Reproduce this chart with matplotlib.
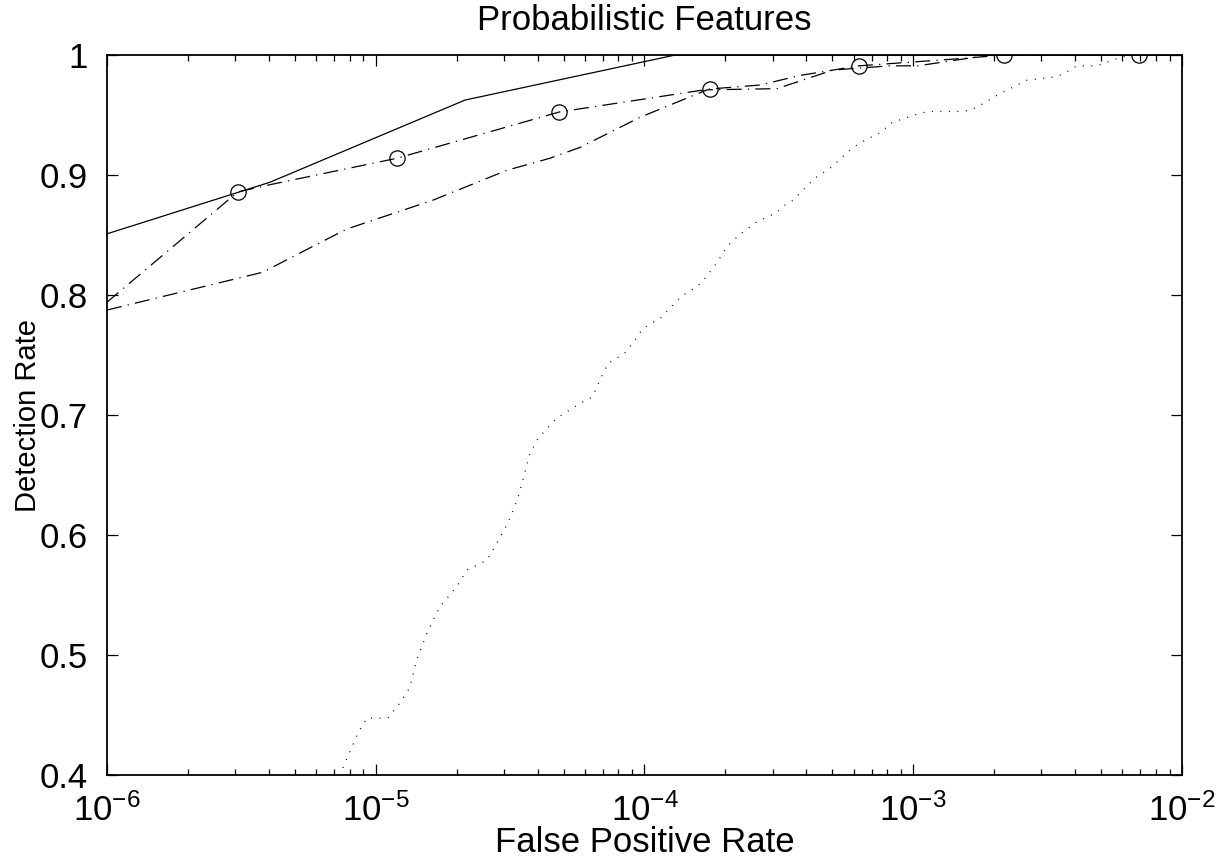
import matplotlib
matplotlib.use("Agg")
import matplotlib.pyplot as plt
import matplotlib.ticker as mtick

plt.rcParams["font.family"] = ["Liberation Sans", "DejaVu Sans"]
plt.rcParams["mathtext.fontset"] = "custom"
plt.rcParams["mathtext.rm"] = "Liberation Sans"
plt.rcParams["mathtext.default"] = "regular"

# ROC curves: false positive rate vs detection rate
solid_fpr = [1e-6, 4.04e-6, 2.15e-5, 1.3e-4, 1e-2]
solid_det = [0.851, 0.894, 0.9625, 1.0, 1.0]

circ_fpr = [1e-6, 3.07e-6, 4.15e-6, 1.2e-5, 4.81e-5, 1.75e-4, 2.69e-4,
            3.79e-4, 6.28e-4, 1.49e-3, 2.18e-3, 6.92e-3, 1e-2]
circ_det = [0.794, 0.886, 0.8925, 0.914, 0.9525, 0.9717, 0.975,
            0.983, 0.991, 0.997, 1.0, 1.0, 1.0]
circ_marks = [1, 3, 4, 5, 8, 10, 11]

dashdot_fpr = [1e-6, 3.8e-6, 5.22e-6, 7.8e-6, 1.63e-5, 3.08e-5, 4.45e-5,
               5.75e-5, 9.6e-5, 1.71e-4, 3.11e-4, 5.03e-4, 8.18e-4,
               1.04e-3, 1.93e-3, 1e-2]
dashdot_det = [0.7875, 0.819, 0.835, 0.855, 0.879, 0.904, 0.914,
               0.923, 0.948, 0.971, 0.972, 0.9875, 0.991,
               0.991, 1.0, 1.0]

dotted_fpr = [7.55e-6, 8.59e-6, 9.27e-6, 1.11e-5, 1.23e-5, 1.34e-5, 1.42e-5,
              1.55e-5, 1.73e-5, 2.00e-5, 2.19e-5, 2.59e-5, 2.82e-5, 3.10e-5,
              3.36e-5, 3.50e-5, 3.75e-5, 3.98e-5, 4.19e-5, 4.72e-5, 5.42e-5,
              5.90e-5, 6.38e-5, 6.61e-5, 6.82e-5, 7.06e-5, 7.31e-5, 7.91e-5,
              8.53e-5, 8.97e-5, 9.38e-5, 9.86e-5, 1.07e-4, 1.15e-4, 1.22e-4,
              1.29e-4, 1.37e-4, 1.47e-4, 1.58e-4, 1.68e-4, 1.86e-4, 1.96e-4,
              2.08e-4, 2.31e-4, 2.62e-4, 2.86e-4, 3.11e-4, 3.33e-4, 3.57e-4,
              3.79e-4, 4.31e-4, 4.61e-4, 4.99e-4, 5.57e-4, 5.97e-4, 6.44e-4,
              7.03e-4, 7.66e-4, 8.18e-4, 8.93e-4, 1.04e-3, 1.14e-3, 1.49e-3,
              1.63e-3, 1.77e-3, 2.07e-3, 2.43e-3, 2.65e-3, 3.43e-3, 3.73e-3,
              4.06e-3, 4.83e-3, 5.26e-3, 5.87e-3, 6.41e-3, 1e-2]
dotted_det = [0.406, 0.435, 0.4475, 0.4475, 0.46, 0.473, 0.496,
              0.518, 0.54, 0.557, 0.571, 0.579, 0.593, 0.61,
              0.629, 0.643, 0.668, 0.679, 0.685, 0.6975, 0.706,
              0.711, 0.715, 0.722, 0.729, 0.736, 0.743, 0.7475,
              0.7525, 0.759, 0.765, 0.772, 0.777, 0.781, 0.787,
              0.7925, 0.799, 0.803, 0.8075, 0.814, 0.827, 0.835,
              0.843, 0.852, 0.861, 0.865, 0.869, 0.875, 0.879,
              0.885, 0.8975, 0.9017, 0.907, 0.917, 0.923, 0.9275,
              0.932, 0.936, 0.943, 0.946, 0.951, 0.953, 0.953,
              0.954, 0.958, 0.967, 0.975, 0.979, 0.982, 0.986,
              0.991, 0.991, 0.994, 0.998, 1.0, 1.0]

y_ticks = [0.4, 0.5, 0.6, 0.7, 0.8, 0.9, 1.0]
x_ticks = [1e-6, 1e-5, 1e-4, 1e-3, 1e-2]

FS = 25
DASHDOT = (0, (12, 5, 1, 5))

fig = plt.figure(figsize=(12.31, 8.60), dpi=100)
ax = fig.add_axes([0.0869, 0.0988, 0.8733, 0.8372])

ax.plot(solid_fpr, solid_det, color="black", lw=0.9, linestyle="-")
ax.plot(circ_fpr, circ_det, color="black", lw=0.9, linestyle=DASHDOT,
        marker="o", markevery=circ_marks, markersize=11,
        markerfacecolor="none", markeredgewidth=0.9)
ax.plot(dashdot_fpr, dashdot_det, color="black", lw=0.9, linestyle=DASHDOT)
ax.plot(dotted_fpr, dotted_det, color="black", lw=0.9, linestyle=(0, (0.8, 6)))

ax.set_xscale("log")
ax.set_xlim(1e-6, 1e-2)
ax.set_ylim(0.4, 1.0)
ax.set_xticks(x_ticks)
ax.set_yticks(y_ticks)
ax.yaxis.set_major_formatter(mtick.FuncFormatter(lambda v, p: f"{v:g}"))
ax.xaxis.set_minor_locator(mtick.LogLocator(base=10, subs=range(2, 10), numticks=20))
ax.xaxis.set_minor_formatter(mtick.NullFormatter())

ax.tick_params(which="both", direction="in", top=True, right=True,
               labelsize=FS, width=0.9)
ax.tick_params(which="major", length=8)
ax.tick_params(which="minor", length=4)
ax.tick_params(axis="x", pad=13)
ax.tick_params(axis="y", pad=14)
for s in ax.spines.values():
    s.set_linewidth(1.3)

ax.set_title("Probabilistic Features", fontsize=FS, pad=18)
ax.set_xlabel("False Positive Rate", fontsize=FS, labelpad=-1)
ax.set_ylabel("Detection Rate", fontsize=21, labelpad=-2)

fig.savefig("out.png", dpi=100)
